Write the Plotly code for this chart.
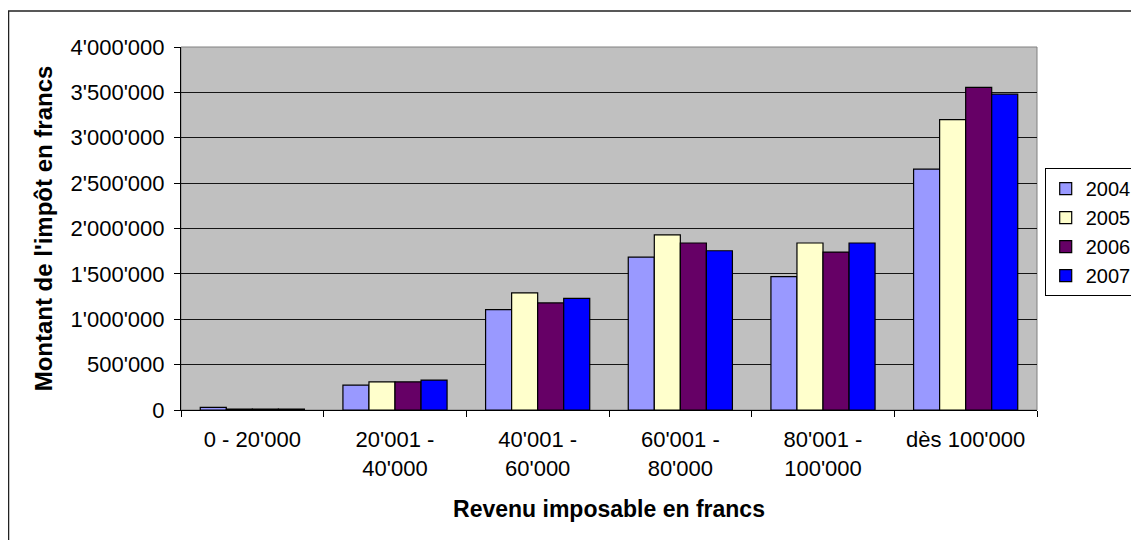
import plotly.graph_objects as go

categories = ["0 - 20'000", "20'001 -<br>40'000", "40'001 -<br>60'000",
              "60'001 -<br>80'000", "80'001 -<br>100'000", "dès 100'000"]
years = ["2004", "2005", "2006", "2007"]
values_2004 = [30000, 275000, 1105000, 1685000, 1470000, 2655000]
values_2005 = [10000, 310000, 1290000, 1930000, 1840000, 3200000]
values_2006 = [10000, 310000, 1180000, 1840000, 1740000, 3555000]
values_2007 = [10000, 330000, 1230000, 1755000, 1840000, 3480000]
colors = ["#9999FF", "#FFFFCC", "#660066", "#0000FF"]

font = "Liberation Sans, Arial, sans-serif"

fig = go.Figure()
for year, vals, col in zip(years, [values_2004, values_2005, values_2006, values_2007], colors):
    fig.add_trace(go.Bar(x=categories, y=vals, name=year,
                         marker=dict(color=col, line=dict(color="black", width=1.2))))

fig.update_layout(
    width=1139, height=540,
    margin=dict(l=173, r=110, t=39, b=138, autoexpand=False),
    paper_bgcolor="white",
    plot_bgcolor="#C0C0C0",
    separators=".'",
    barmode="group",
    bargap=0.27,
    bargroupgap=0,
    font=dict(family=font, size=22, color="black"),
    legend=dict(x=1.009, y=0.49, xanchor="left", yanchor="middle",
                bordercolor="black", borderwidth=1, bgcolor="white",
                font=dict(size=20), tracegroupgap=0, itemwidth=30),
    shapes=[
        dict(type="rect", xref="paper", yref="paper", x0=0, x1=1, y0=0, y1=1,
             line=dict(color="#808080", width=1), layer="below"),
        dict(type="rect", xref="paper", yref="paper", x0=-0.2015, x1=1.3, y0=-0.4, y1=1.099,
             line=dict(color="#222222", width=1.5), layer="below"),
    ],
)

fig.update_xaxes(
    showline=True, linecolor="black", linewidth=1,
    ticks="outside", tickson="boundaries", ticklen=6, tickcolor="black",
    tickfont=dict(size=22), ticklabelstandoff=10,
    title=dict(text="<b>Revenu imposable en francs</b>", font=dict(size=23), standoff=20),
)
fig.update_yaxes(
    range=[0, 4000000], dtick=500000, tickformat=",d",
    showline=True, linecolor="black", linewidth=1,
    ticks="outside", ticklen=6, tickcolor="black",
    showgrid=True, gridcolor="#151515", gridwidth=1,
    zeroline=False,
    tickfont=dict(size=22), ticklabelstandoff=5,
    title=dict(text="<b>Montant de l'impôt en francs</b>", font=dict(size=24), standoff=11),
)

fig.write_html("out.html")
